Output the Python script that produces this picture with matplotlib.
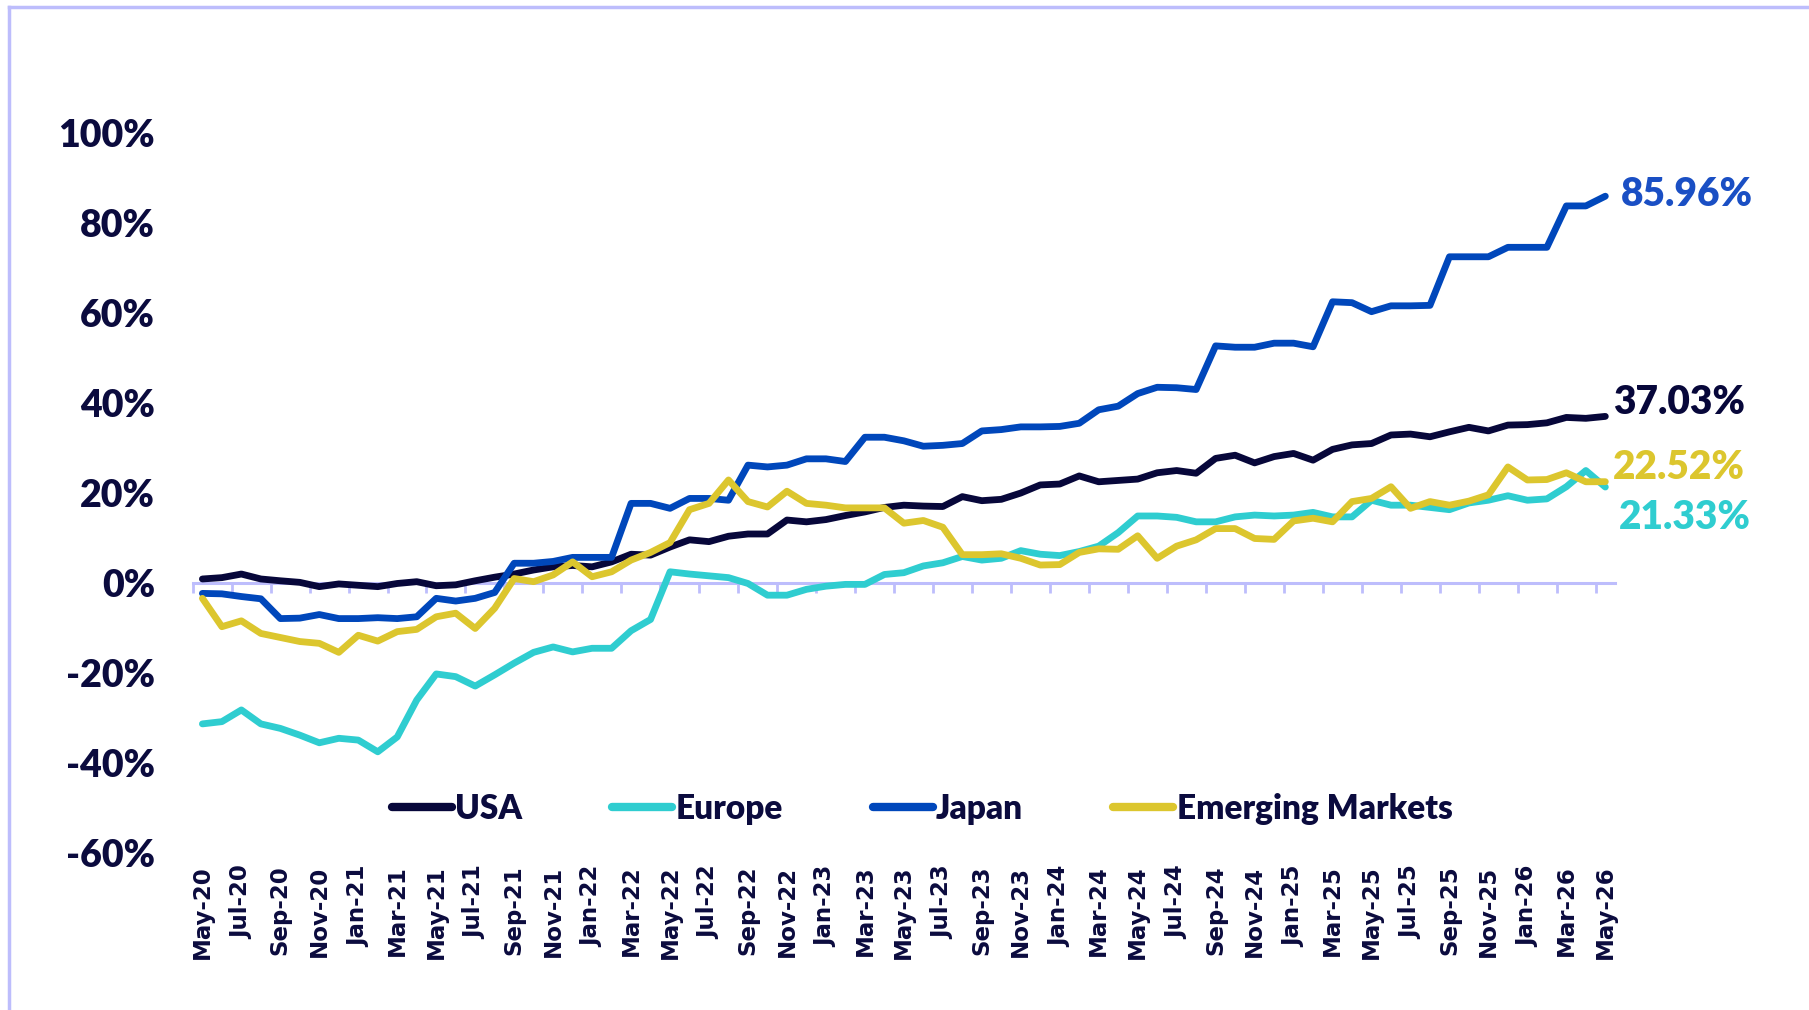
import numpy as np
import matplotlib.pyplot as plt
from matplotlib.lines import Line2D

# monthly cumulative returns (%) May-20 .. May-26
usa = [0.9, 1.2, 2.0, 0.9, 0.5, 0.15, -0.8, -0.2, -0.5, -0.8, -0.1, 0.3, -0.6, -0.4, 0.5, 1.3,
       2.0, 2.9, 3.6, 3.9, 3.6, 4.7, 6.4, 6.2, 8.0, 9.6, 9.2, 10.4, 10.9, 10.9, 14.0, 13.6,
       14.1, 15.0, 15.8, 16.8, 17.3, 17.1, 17.0, 19.2, 18.3, 18.6, 20.0, 21.8, 22.0, 23.8, 22.5,
       22.8, 23.1, 24.5, 25.0, 24.4, 27.7, 28.4, 26.7, 28.1, 28.8, 27.3, 29.7, 30.7, 31.0, 32.9,
       33.1, 32.5, 33.6, 34.6, 33.8, 35.1, 35.2, 35.6, 36.8, 36.6, 37.03]
europe = [-31.3, -30.8, -28.2, -31.3, -32.3, -33.8, -35.5, -34.5, -34.9, -37.5, -34.2, -26.0,
          -20.2, -20.8, -22.9, -20.4, -17.8, -15.4, -14.2, -15.3, -14.5, -14.5, -10.6, -8.1, 2.5,
          2.0, 1.6, 1.2, -0.1, -2.7, -2.7, -1.4, -0.7, -0.3, -0.3, 1.9, 2.3, 3.8, 4.5, 5.9, 5.1,
          5.5, 7.2, 6.4, 6.1, 7.0, 8.2, 11.2, 14.9, 14.9, 14.6, 13.6, 13.6, 14.7, 15.1, 14.9,
          15.1, 15.7, 14.7, 14.7, 18.4, 17.3, 17.3, 16.8, 16.3, 17.8, 18.4, 19.4, 18.4, 18.7,
          21.4, 25.0, 21.33]
japan = [-2.3, -2.4, -3.0, -3.5, -7.9, -7.8, -7.0, -7.9, -7.9, -7.7, -7.9, -7.5, -3.4, -4.0,
         -3.4, -2.1, 4.4, 4.4, 4.8, 5.7, 5.7, 5.7, 17.7, 17.7, 16.6, 18.8, 18.8, 18.4, 26.2,
         25.8, 26.2, 27.6, 27.6, 27.0, 32.4, 32.4, 31.6, 30.4, 30.6, 31.0, 33.8, 34.1, 34.7,
         34.7, 34.8, 35.5, 38.5, 39.3, 42.1, 43.5, 43.4, 43.0, 52.7, 52.4, 52.4, 53.3, 53.3,
         52.5, 62.5, 62.3, 60.3, 61.6, 61.6, 61.7, 72.5, 72.5, 72.5, 74.6, 74.6, 74.6, 83.8,
         83.8, 85.96]
em = [-3.4, -9.7, -8.4, -11.2, -12.1, -13.0, -13.4, -15.4, -11.6, -12.9, -10.8, -10.3, -7.5,
      -6.7, -10.1, -5.6, 1.0, 0.3, 1.8, 4.7, 1.4, 2.5, 5.1, 6.8, 9.0, 16.3, 17.7, 22.9, 18.1,
      16.9, 20.4, 17.7, 17.3, 16.7, 16.7, 16.7, 13.3, 13.9, 12.4, 6.3, 6.3, 6.5, 5.5, 4.0, 4.1,
      6.8, 7.6, 7.5, 10.5, 5.5, 8.2, 9.6, 12.1, 12.1, 9.9, 9.7, 13.8, 14.4, 13.6, 18.1, 18.8,
      21.4, 16.6, 18.1, 17.3, 18.2, 19.6, 25.8, 22.9, 23.0, 24.5, 22.5, 22.52]

tick_labels = ['May-20', 'Jul-20', 'Sep-20', 'Nov-20', 'Jan-21', 'Mar-21', 'May-21', 'Jul-21',
               'Sep-21', 'Nov-21', 'Jan-22', 'Mar-22', 'May-22', 'Jul-22', 'Sep-22', 'Nov-22',
               'Jan-23', 'Mar-23', 'May-23', 'Jul-23', 'Sep-23', 'Nov-23', 'Jan-24', 'Mar-24',
               'May-24', 'Jul-24', 'Sep-24', 'Nov-24', 'Jan-25', 'Mar-25', 'May-25', 'Jul-25',
               'Sep-25', 'Nov-25', 'Jan-26', 'Mar-26', 'May-26']
y_ticks = [-60, -40, -20, 0, 20, 40, 60, 80, 100]

names = ['USA', 'Europe', 'Japan', 'Emerging Markets']
colors = ['#07073a', '#2fcdd0', '#0047bb', '#dcc62e']
label_colors = ['#07073a', '#2fcdd0', '#1a4fc4', '#dcc62e']
navy = '#0b0b3e'
lilac = '#bdbdfc'

fig = plt.figure(figsize=(18.09, 10.10), dpi=100)
ax = fig.add_axes([0.1065, 0.1554, 0.7863, 0.7129])

series = [usa, europe, japan, em]
x = np.arange(len(usa))
for s, c, n in zip(series, colors, names):
    ax.plot(x, s, color=c, lw=4.9, label=n, solid_joinstyle='round', solid_capstyle='round')

ymin, ymax = -60, 100
ax.set_ylim(ymin, ymax)
ax.set_xlim(-0.5, len(usa) - 0.5)
for sp in ax.spines.values():
    sp.set_visible(False)

ax.set_yticks(y_ticks)
ax.set_yticklabels([f'{v}%' for v in y_ticks], fontfamily='Lato', fontweight='heavy',
                   fontsize=27, color=navy)
ax.tick_params(axis='y', length=0, pad=27)

ax.set_xticks(x[::2])
ax.set_xticklabels(tick_labels, rotation=90, fontfamily='DejaVu Sans', fontweight='bold',
                   fontsize=16.5, color=navy)
ax.tick_params(axis='x', length=0, pad=9)

# category axis line at 0% with ticks between categories
sec = ax.secondary_xaxis((0 - ymin) / (ymax - ymin))
sec.spines['bottom'].set_color(lilac)
sec.spines['bottom'].set_linewidth(2.2)
sec.set_xticks(np.arange(-0.5, len(usa) - 1, 2))
sec.tick_params(axis='x', direction='out', length=7, width=2, color=lilac, labelbottom=False)
ax.set_zorder(2)

# end labels
offsets = [3.0, -6.8, 0.3, 3.2]
xoff = [71.9, 72.2, 72.3, 71.9]
for s, c, dy, xo in zip(series, label_colors, offsets, xoff):
    ax.text(xo + 0.5, s[-1] + dy, f'{s[-1]:.2f}%', color=c, fontfamily='Lato',
            fontweight='heavy', fontsize=28, va='center', ha='left', clip_on=False)

leg = fig.legend(loc='center', bbox_to_anchor=(0.5097, 0.199), ncol=4, frameon=False,
                 prop={'family': 'Lato', 'weight': 'heavy', 'size': 24},
                 handlelength=1.8, handletextpad=0.1, columnspacing=2.7)
for t in leg.get_texts():
    t.set_color(navy)
for h in leg.get_lines():
    h.set_linewidth(6)

# light frame (left and top edges visible)
fig.add_artist(Line2D([9 / 1809, 9 / 1809], [0, 1 - 7 / 1010], color=lilac, lw=2.5,
                      transform=fig.transFigure))
fig.add_artist(Line2D([9 / 1809, 1], [1 - 7 / 1010, 1 - 7 / 1010], color=lilac, lw=2.5,
                      transform=fig.transFigure))

fig.savefig('out.png', dpi=100, facecolor='white')
